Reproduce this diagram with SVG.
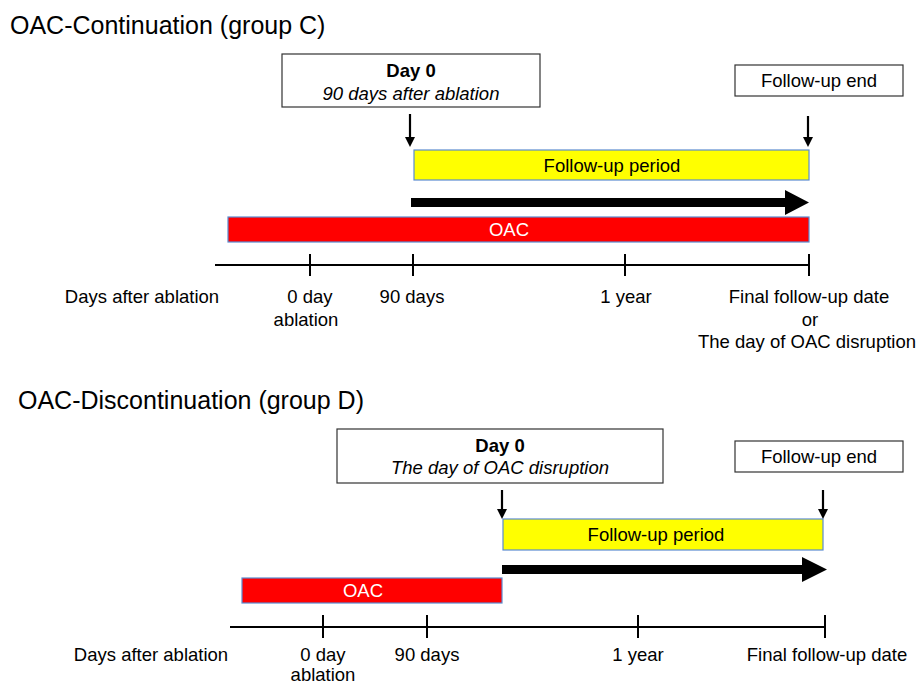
<svg xmlns="http://www.w3.org/2000/svg" width="921" height="685" viewBox="0 0 921 685">
<style>
text{font-family:"Liberation Sans",Arial,sans-serif;fill:#000}
.t{font-size:25px}
.l{font-size:18.5px;text-anchor:middle}
.b{font-weight:bold}
.i{font-style:italic}
.box{fill:#fff;stroke:#333;stroke-width:1.2}
.fu{fill:#ffff00;stroke:#5b8bd0;stroke-width:1.2}
.oac{fill:#ff0000;stroke:#5b8bd0;stroke-width:1.2}
.w{fill:#fff}
.ax{stroke:#000;stroke-width:2;fill:none}
.ar{stroke:#000;stroke-width:2.2}
</style>
<defs>
<marker id="h" viewBox="0 0 10 10" refX="0" refY="5" markerWidth="10" markerHeight="10" markerUnits="userSpaceOnUse" orient="auto"><path d="M0,0 L10,5 L0,10 Z" fill="#000"/></marker>
</defs>
<rect width="921" height="685" fill="#fff"/>

<text class="t" x="10" y="34">OAC-Continuation (group C)</text>
<g id="c-day0"><rect class="box" x="282" y="54" width="258" height="53"/><text class="l b" x="411" y="77">Day 0</text><text class="l i" x="411" y="100">90 days after ablation</text></g>
<g id="c-end"><rect class="box" x="735" y="65" width="168" height="31"/><text class="l" x="819" y="87">Follow-up end</text></g>
<g id="c-follow"><rect class="fu" x="414" y="150" width="395" height="30"/><text class="l" x="612" y="172">Follow-up period</text></g>
<g id="c-oac"><rect class="oac" x="228" y="217" width="581" height="25"/><text class="l w" x="509" y="236">OAC</text></g>
<g id="c-axis">
<path class="ax" d="M215,265 H809 M310,254 V276 M413,254 V276 M625,254 V276 M809,254 V276"/>
<text class="l" x="142" y="303">Days after ablation</text>
<text class="l" x="310" y="303">0 day</text>
<text class="l" x="306" y="326">ablation</text>
<text class="l" x="412" y="303">90 days</text>
<text class="l" x="626" y="303">1 year</text>
<text class="l" x="809" y="303">Final follow-up date</text>
<text class="l" x="810" y="326">or</text>
<text class="l" x="807" y="348">The day of OAC disruption</text>
</g>

<text class="t" x="18" y="409">OAC-Discontinuation (group D)</text>
<g id="d-day0"><rect class="box" x="337" y="429" width="326" height="54"/><text class="l b" x="500" y="452">Day 0</text><text class="l i" x="500" y="474">The day of OAC disruption</text></g>
<g id="d-end"><rect class="box" x="735" y="441" width="168" height="31"/><text class="l" x="819" y="463">Follow-up end</text></g>
<g id="d-follow"><rect class="fu" x="503" y="519" width="320" height="31"/><text class="l" x="656" y="541">Follow-up period</text></g>
<g id="d-oac"><rect class="oac" x="242" y="578" width="260" height="25"/><text class="l w" x="363" y="597">OAC</text></g>
<g id="d-axis">
<path class="ax" d="M230,627 H825 M323,615 V638 M427,615 V638 M638,615 V638 M825,615 V638"/>
<text class="l" x="151" y="661">Days after ablation</text>
<text class="l" x="323" y="661">0 day</text>
<text class="l" x="323" y="681">ablation</text>
<text class="l" x="427" y="661">90 days</text>
<text class="l" x="638" y="661">1 year</text>
<text class="l" x="827" y="661">Final follow-up date</text>
</g>

<g id="connectors">
<line class="ar" x1="410" y1="114" x2="410" y2="137" marker-end="url(#h)"/>
<line class="ar" x1="808" y1="116" x2="808" y2="137" marker-end="url(#h)"/>
<path d="M411,198 H785 V190 L809,202.5 L785,215 V207 H411 Z" fill="#000"/>
<line class="ar" x1="502" y1="490" x2="502" y2="509" marker-end="url(#h)"/>
<line class="ar" x1="823" y1="490" x2="823" y2="509" marker-end="url(#h)"/>
<path d="M502,565 H802 V557 L827,569.5 L802,582 V574 H502 Z" fill="#000"/>
</g>
</svg>
